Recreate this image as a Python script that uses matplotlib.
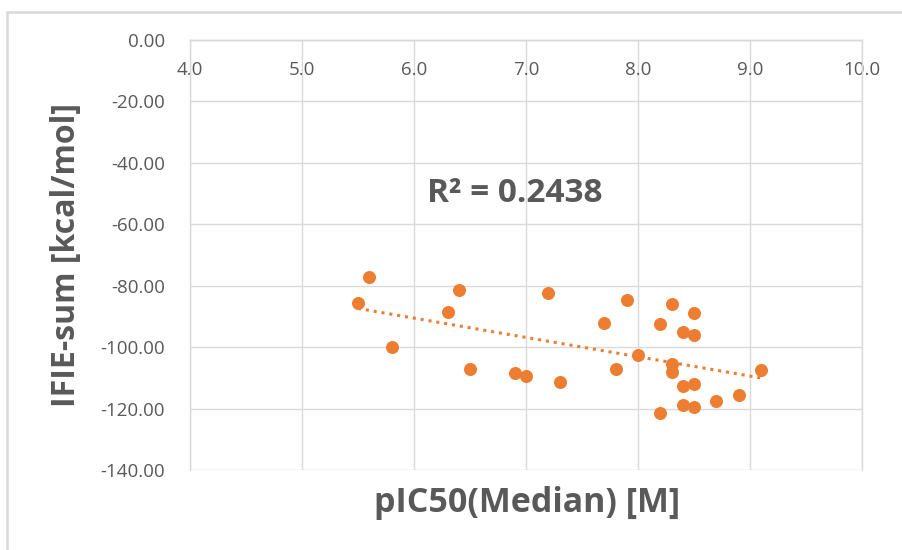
import numpy as np
import matplotlib
matplotlib.use("Agg")
import matplotlib.pyplot as plt
from matplotlib.patches import Rectangle

# pIC50 (mediana) frente a la suma IFIE
pic50 = [5.5, 5.6, 5.8, 6.3, 6.4, 6.5, 6.9, 7.0, 7.2, 7.3,
         7.7, 7.8, 7.9, 8.0, 8.2, 8.2, 8.3, 8.3, 8.3, 8.4,
         8.4, 8.4, 8.5, 8.5, 8.5, 8.5, 8.7, 8.9, 9.1]
ifie = [-85.5, -77.0, -100.0, -88.5, -81.5, -107.0, -108.5, -109.5, -82.5, -111.5,
        -92.0, -107.0, -84.5, -102.5, -92.5, -121.5, -86.0, -105.5, -108.0, -95.0,
        -112.5, -119.0, -89.0, -96.0, -112.0, -119.5, -117.5, -115.5, -107.5]
r2_text = "R² = 0.2438"

naranja = "#ED7D31"
gris = "#595959"
rejilla = "#D9D9D9"
plt.rcParams['font.family'] = ['Open Sans', 'DejaVu Sans']

fig = plt.figure(figsize=(9.03, 5.50), dpi=100)
ax = fig.add_axes([190/903, 1-470/550, 672/903, 430/550])

x = np.array(pic50)
y = np.array(ifie)
ax.scatter(x, y, s=88, color=naranja, zorder=3, linewidths=0)

# recta de tendencia (mínimos cuadrados)
m, c = np.polyfit(x, y, 1)
xt = np.array([x.min(), x.max()])
ax.plot(xt, m*xt + c, linestyle=(0, (1, 1.6)), color=naranja, lw=2.2, zorder=2)

ax.set_xlim(4, 10)
ax.set_ylim(-140, 0)
ax.set_xticks(np.arange(4, 10.1, 1))
ax.set_yticks(np.arange(-140, 1, 20))
ax.set_xticklabels([f"{v:.1f}" for v in np.arange(4, 10.1, 1)])
ax.set_yticklabels([f"{v:.2f}" for v in np.arange(-140, 1, 20)])
ax.grid(True, color=rejilla, lw=1)
ax.set_axisbelow(True)

# el eje x corta en y = 0, como en Excel
ax.spines['bottom'].set_position(('data', 0))
for s in ax.spines.values():
    s.set_color(rejilla)
    s.set_linewidth(1)
ax.tick_params(axis='x', length=0, pad=15, labelsize=13.5, labelcolor=gris)
ax.tick_params(axis='y', length=0, pad=18, labelsize=13.5, labelcolor=gris)

ax.text(6.9, -50, r2_text, ha='center', va='center', fontsize=24,
        fontweight='bold', color=gris)

fig.text(527/903, 1-503/550, "pIC50(Median) [M]", ha='center', va='center',
         fontsize=24.5, fontweight='bold', color=gris)
fig.text(67/903, 1-255/550, "IFIE-sum [kcal/mol]", ha='center', va='center',
         rotation=90, fontsize=23, fontweight='bold', color=gris)

# marco del gráfico
fig.patches.append(Rectangle((7/903, -0.05), 1.2, 1.05 - 12/550, transform=fig.transFigure,
                             fill=False, edgecolor=rejilla, lw=1.8))

fig.savefig("out.png", dpi=100)
